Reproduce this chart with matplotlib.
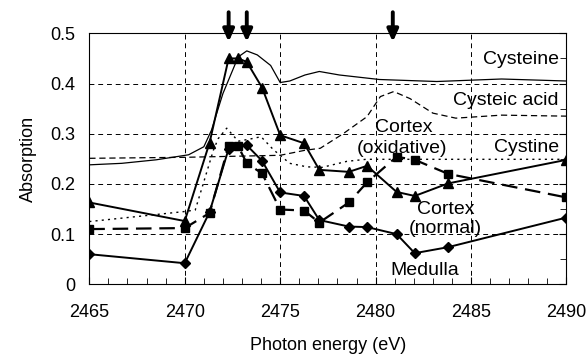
import numpy as np
import matplotlib.pyplot as plt

plt.rcParams['font.family'] = ['Liberation Sans', 'DejaVu Sans']
plt.rcParams['font.size'] = 13

# sample energies (eV)
energy = [2465, 2470, 2471.3, 2472.3, 2472.8, 2473.25, 2474.05, 2475, 2476.25,
          2477.05, 2478.6, 2479.55, 2481.1, 2482.05, 2483.8, 2490]
cortex_ox = [0.163, 0.126, 0.282, 0.450, 0.450, 0.443, 0.392, 0.297, 0.281,
             0.228, 0.224, 0.236, 0.184, 0.176, 0.201, 0.248]
cortex_norm = [0.110, 0.112, 0.142, 0.276, 0.275, 0.241, 0.221, 0.149, 0.147,
               0.123, 0.163, 0.203, 0.254, 0.248, 0.220, 0.173]
medulla_e = [2465, 2470, 2471.3, 2472.3, 2473.25, 2474.05, 2475, 2476.25,
             2477.05, 2478.6, 2479.55, 2481.1, 2482.05, 2483.8, 2490]
medulla = [0.060, 0.042, 0.144, 0.270, 0.277, 0.246, 0.183, 0.176,
           0.128, 0.115, 0.114, 0.100, 0.062, 0.074, 0.133]

# reference compounds
cys_e = [2465, 2466.7, 2468.5, 2470.2, 2471, 2471.4, 2472, 2472.8, 2473.25, 2473.8,
         2474.5, 2475, 2475.5, 2476.3, 2477.05, 2478.1, 2480.2, 2483.2, 2486.6, 2490]
cysteine = [0.238, 0.241, 0.248, 0.258, 0.274, 0.307, 0.380, 0.453, 0.465, 0.457,
            0.436, 0.402, 0.405, 0.417, 0.424, 0.417, 0.408, 0.404, 0.409, 0.405]
acid_e = [2465, 2470, 2475, 2476.3, 2477.1, 2478.3, 2479.55, 2480.25, 2480.95,
          2481.8, 2483.0, 2484.2, 2486.6, 2490]
cysteic = [0.251, 0.253, 0.257, 0.267, 0.271, 0.300, 0.334, 0.374, 0.384,
           0.370, 0.341, 0.331, 0.337, 0.335]
cystine_e = [2465, 2470, 2470.55, 2471.5, 2471.75, 2472.2, 2472.8, 2473.5, 2474,
             2474.65, 2475.5, 2476.4, 2477.2, 2478.5, 2479.5, 2490]
cystine = [0.125, 0.145, 0.148, 0.267, 0.290, 0.311, 0.285, 0.290, 0.294,
           0.268, 0.241, 0.234, 0.233, 0.245, 0.249, 0.249]

arrows = [2472.3, 2473.25, 2480.9]

fig = plt.figure(figsize=(5.86, 3.56), dpi=100)
ax = fig.add_axes([0.1524, 0.2014, 0.8143, 0.705])

ax.plot(cys_e, cysteine, color='k', lw=0.9)
ax.plot(acid_e, cysteic, color='k', lw=0.9, dashes=(5, 3))
ax.plot(cystine_e, cystine, color='k', lw=1.0, dashes=(1.5, 3))
ax.plot(energy, cortex_ox, color='k', lw=1.4, marker='^', ms=7)
ax.plot(energy, cortex_norm, color='k', lw=1.6, marker='s', ms=6, dashes=(7, 3.5))
ax.plot(medulla_e, medulla, color='k', lw=1.4, marker='D', ms=5)

for e in arrows:
    ax.annotate('', xy=(e, 0.483), xytext=(e, 0.542), annotation_clip=False,
                arrowprops=dict(arrowstyle='-|>,head_width=0.25,head_length=0.55',
                                color='k', lw=2.8, shrinkA=0, shrinkB=0))

lab = 14
ax.text(2489.6, 0.447, 'Cysteine', ha='right', va='center', fontsize=lab)
ax.text(2489.6, 0.367, 'Cysteic acid', ha='right', va='center', fontsize=lab)
ax.text(2481.5, 0.312, 'Cortex', ha='center', va='center', fontsize=lab)
ax.text(2481.4, 0.271, '(oxidative)', ha='center', va='center', fontsize=lab)
ax.text(2489.6, 0.273, 'Cystine', ha='right', va='center', fontsize=lab)
ax.text(2483.65, 0.150, 'Cortex', ha='center', va='center', fontsize=lab)
ax.text(2483.65, 0.112, '(normal)', ha='center', va='center', fontsize=lab)
ax.text(2482.55, 0.028, 'Medulla', ha='center', va='center', fontsize=lab)

ax.set_xlim(2465, 2490)
ax.set_ylim(0, 0.5)
ax.set_xticks(np.arange(2465, 2491, 5))
ax.set_xticks(np.arange(2465, 2491, 1), minor=True)
ax.set_yticks([0, 0.1, 0.2, 0.3, 0.4, 0.5])
ax.set_yticklabels(['0', '0.1', '0.2', '0.3', '0.4', '0.5'])
ax.set_yticks(np.arange(0.05, 0.5, 0.1), minor=True)
ax.tick_params(direction='in', right=True, top=False, length=5, width=0.8)
ax.tick_params(axis='x', pad=14)
ax.tick_params(axis='y', pad=10, left=False)
ax.tick_params(which='minor', direction='in', right=True, left=False, length=4)
ax.grid(True, which='major', color='k', ls=(0, (5, 4)), lw=0.7)

ax.set_xlabel('Photon energy (eV)', labelpad=12)
ax.set_ylabel('Absorption', labelpad=10)

fig.savefig('out.png', dpi=100)
